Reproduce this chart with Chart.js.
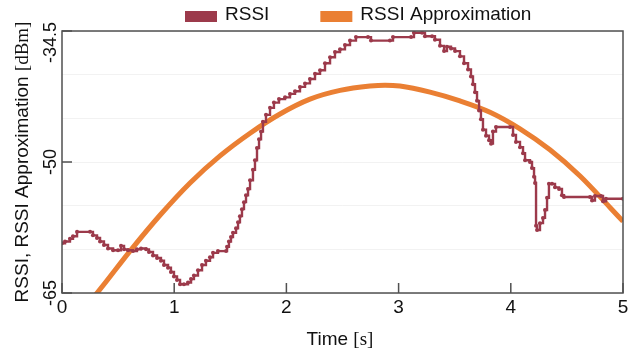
<!DOCTYPE html>
<html>
<head>
<meta charset="utf-8">
<script src="https://cdn.jsdelivr.net/npm/chart.js@4"></script>
<style>
  html, body { margin: 0; padding: 0; background: #fff; }
  #wrap { width: 638px; height: 351px; }
</style>
</head>
<body>
<div id="wrap"><canvas id="rssiChart"></canvas></div>
<script>
// --- data ---
const rssiTime = [0, 0.027, 0.071, 0.098, 0.134, 0.250, 0.276, 0.312, 0.339, 0.374,
  0.410, 0.455, 0.499, 0.526, 0.553, 0.588, 0.633, 0.668, 0.704, 0.749,
  0.775, 0.811, 0.847, 0.882, 0.909, 0.945, 0.971, 0.998, 1.025, 1.052,
  1.087, 1.123, 1.150, 1.176, 1.212, 1.248, 1.283, 1.319, 1.346, 1.390,
  1.462, 1.471, 1.488, 1.506, 1.524, 1.551, 1.569, 1.586, 1.604, 1.622,
  1.640, 1.658, 1.676, 1.702, 1.720, 1.738, 1.756, 1.774, 1.791, 1.818,
  1.854, 1.889, 1.934, 1.988, 2.032, 2.077, 2.121, 2.166, 2.210, 2.255,
  2.300, 2.344, 2.389, 2.433, 2.478, 2.522, 2.567, 2.620, 2.727, 2.754,
  2.923, 2.950, 3.111, 3.137, 3.209, 3.235, 3.298, 3.324, 3.369, 3.405,
  3.431, 3.467, 3.503, 3.547, 3.583, 3.619, 3.645, 3.663, 3.681, 3.699,
  3.717, 3.734, 3.752, 3.779, 3.806, 3.824, 3.841, 3.868, 3.993, 4.020,
  4.046, 4.082, 4.109, 4.127, 4.171, 4.189, 4.207, 4.216, 4.225, 4.234,
  4.260, 4.287, 4.305, 4.323, 4.340, 4.367, 4.394, 4.430, 4.456, 4.474,
  4.706, 4.724, 4.750, 4.804, 4.822, 4.848, 5.0];
const rssiValue = [-59.3, -59.1, -58.8, -58.5, -58.0, -58.0, -58.4, -58.7, -59.1, -59.5,
  -59.9, -60.1, -60.1, -59.6, -60.0, -60.1, -60.2, -60.0, -59.9, -60.0,
  -60.3, -60.7, -61.0, -61.3, -61.8, -62.1, -62.6, -63.1, -63.5, -64.0,
  -64.0, -63.8, -63.4, -63.0, -62.4, -61.8, -61.3, -60.9, -60.4, -60.2,
  -60.2, -59.7, -59.1, -58.6, -58.1, -57.6, -56.9, -56.2, -55.4, -54.6,
  -53.8, -53.1, -52.1, -50.9, -49.8, -48.4, -47.4, -46.5, -45.4, -44.6,
  -43.8, -43.2, -42.8, -42.6, -42.2, -41.9, -41.4, -41.0, -40.5, -39.9,
  -39.5, -38.7, -38.0, -37.4, -37.1, -36.6, -36.1, -35.7, -35.7, -36.1,
  -36.1, -35.7, -35.7, -35.2, -35.2, -35.6, -35.6, -36.0, -36.7, -37.3,
  -36.8, -37.0, -37.3, -37.9, -38.7, -39.4, -40.2, -41.1, -42.0, -43.0,
  -44.1, -45.1, -46.3, -47.0, -47.5, -47.9, -46.5, -46.0, -46.0, -46.9,
  -47.7, -48.3, -49.0, -49.8, -50.0, -50.7, -51.7, -52.4, -57.3, -57.8,
  -57.0, -56.4, -55.5, -54.1, -52.5, -52.5, -52.9, -53.1, -53.8, -54.0,
  -54.0, -54.4, -53.9, -53.9, -54.5, -54.2, -54.2];

const approxTime = [0.25, 0.312, 0.606, 0.873, 1.141, 1.408, 1.676, 1.943, 2.210, 2.478,
  2.745, 2.879, 3.012, 3.280, 3.547, 3.815, 4.082, 4.349, 4.617, 4.884, 5.0];
const approxValue = [-65.9, -65.0, -60.2, -56.1, -52.4, -49.3, -46.7, -44.5, -42.8, -41.8,
  -41.3, -41.2, -41.3, -42.0, -43.0, -44.3, -46.2, -48.6, -51.6, -55.2, -56.8];

const seriesNames = ["RSSI", "RSSI Approximation"];
const xTickValues = [0, 1, 2, 3, 4, 5];
const yTickValues = [-65, -50, -35];
const yTickLabels = ["-65", "-50", "-34.5"];

const RSSI_COLOR = "#9c3a4b";
const APPROX_COLOR = "#ea7f33";
const SANS = "'Liberation Sans', Arial, sans-serif";
const SERIF = "'Liberation Serif', 'Times New Roman', serif";

// draws text pieces with different fonts one after the other, centred on x
function drawMixed(ctx, parts, x, y) {
  let total = 0;
  parts.forEach(function (p) { ctx.font = p.font; total += ctx.measureText(p.text).width; });
  let cx = x - total / 2;
  ctx.textAlign = "left";
  parts.forEach(function (p) {
    ctx.font = p.font;
    ctx.fillText(p.text, cx, y);
    cx += ctx.measureText(p.text).width;
  });
}

// frame, inner tick marks, y labels, axis titles and legend
const decorations = {
  id: "decorations",
  afterDraw(chart) {
    const ctx = chart.ctx;
    const a = chart.chartArea;
    const xs = chart.scales.x;
    const ys = chart.scales.y;
    ctx.save();

    // box around plot
    ctx.strokeStyle = "#505050";
    ctx.lineWidth = 1.5;
    ctx.strokeRect(a.left, a.top, a.right - a.left, a.bottom - a.top);

    // tick marks pointing inward
    ctx.beginPath();
    xTickValues.forEach(function (v) {
      const px = xs.getPixelForValue(v);
      ctx.moveTo(px, a.bottom);
      ctx.lineTo(px, a.bottom - 10);
    });
    yTickValues.forEach(function (v) {
      const py = ys.getPixelForValue(v);
      ctx.moveTo(a.left, py);
      ctx.lineTo(a.left + 10, py);
    });
    ctx.stroke();

    // y tick labels, rotated
    ctx.fillStyle = "#111";
    ctx.font = "18px " + SANS;
    ctx.textBaseline = "alphabetic";
    ctx.textAlign = "center";
    yTickValues.forEach(function (v, i) {
      const w = ctx.measureText(yTickLabels[i]).width;
      let c = ys.getPixelForValue(v);
      if (c - w / 2 < a.top - 9) c = a.top - 9 + w / 2;
      ctx.save();
      ctx.translate(56, c);
      ctx.rotate(-Math.PI / 2);
      ctx.fillText(yTickLabels[i], 0, 0);
      ctx.restore();
    });

    // axis titles
    drawMixed(ctx, [
      { text: "Time ", font: "19px " + SANS },
      { text: "[s]", font: "19px " + SERIF }
    ], 340, 345);
    ctx.save();
    ctx.translate(28, (a.top + a.bottom) / 2);
    ctx.rotate(-Math.PI / 2);
    drawMixed(ctx, [
      { text: "RSSI, RSSI Approximation ", font: "19px " + SANS },
      { text: "[dBm]", font: "19px " + SERIF }
    ], 0, 0);
    ctx.restore();

    // legend
    ctx.font = "19px " + SANS;
    ctx.textBaseline = "middle";
    ctx.textAlign = "left";
    let lx = 185;
    chart.data.datasets.forEach(function (ds) {
      ctx.fillStyle = ds.borderColor;
      ctx.fillRect(lx, 11, 32, 11);
      ctx.fillStyle = "#111";
      ctx.fillText(ds.label, lx + 40, 15);
      lx += 40 + ctx.measureText(ds.label).width + 51;
    });

    ctx.restore();
  }
};

const rssiPoints = rssiTime.map(function (t, i) { return { x: t, y: rssiValue[i] }; });
const approxPoints = approxTime.map(function (t, i) { return { x: t, y: approxValue[i] }; });

new Chart(document.getElementById("rssiChart"), {
  type: "line",
  data: {
    datasets: [
      {
        label: seriesNames[0],
        data: rssiPoints,
        borderColor: RSSI_COLOR,
        backgroundColor: RSSI_COLOR,
        borderWidth: 2.4,
        pointRadius: 2,
        pointBorderWidth: 0,
        pointBackgroundColor: RSSI_COLOR,
        stepped: true,
        clip: 0
      },
      {
        label: seriesNames[1],
        data: approxPoints,
        borderColor: APPROX_COLOR,
        backgroundColor: APPROX_COLOR,
        borderWidth: 5,
        pointRadius: 0,
        cubicInterpolationMode: "monotone",
        clip: 0
      }
    ]
  },
  options: {
    responsive: true,
    maintainAspectRatio: false,
    animation: false,
    layout: { padding: { top: 31, right: 15, left: 0, bottom: 0 } },
    plugins: {
      legend: { display: false },
      tooltip: { enabled: false }
    },
    scales: {
      x: {
        type: "linear",
        min: 0,
        max: 5,
        afterBuildTicks: function (scale) {
          scale.ticks = xTickValues.map(function (v) { return { value: v }; });
        },
        afterFit: function (scale) { scale.height = 58; },
        grid: { display: false, drawTicks: false },
        border: { display: false },
        ticks: {
          padding: 3,
          color: "#111",
          font: { family: SANS, size: 19 }
        }
      },
      y: {
        type: "linear",
        min: -65,
        max: -35,
        afterFit: function (scale) { scale.width = 62; },
        ticks: { display: false, stepSize: 5 },
        grid: { color: "rgba(0,0,0,0.05)", drawTicks: false },
        border: { display: false }
      }
    }
  },
  plugins: [decorations]
});
</script>
</body>
</html>
